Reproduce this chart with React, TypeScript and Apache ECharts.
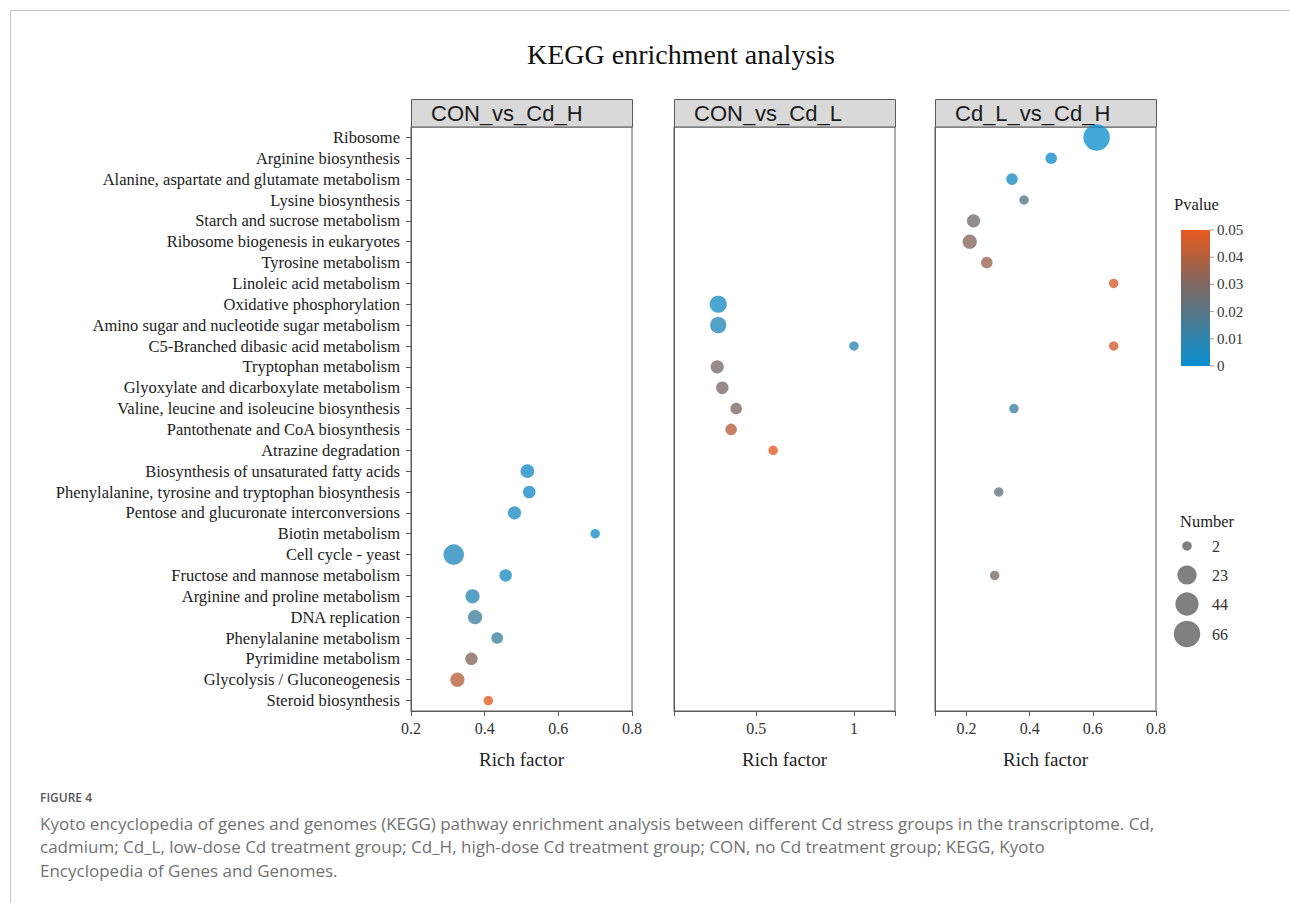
import React, { useEffect, useRef } from "react";
import * as echarts from "echarts";

const categories = [
  "Ribosome",
  "Arginine biosynthesis",
  "Alanine, aspartate and glutamate metabolism",
  "Lysine biosynthesis",
  "Starch and sucrose metabolism",
  "Ribosome biogenesis in eukaryotes",
  "Tyrosine metabolism",
  "Linoleic acid metabolism",
  "Oxidative phosphorylation",
  "Amino sugar and nucleotide sugar metabolism",
  "C5-Branched dibasic acid metabolism",
  "Tryptophan metabolism",
  "Glyoxylate and dicarboxylate metabolism",
  "Valine, leucine and isoleucine biosynthesis",
  "Pantothenate and CoA biosynthesis",
  "Atrazine degradation",
  "Biosynthesis of unsaturated fatty acids",
  "Phenylalanine, tyrosine and tryptophan biosynthesis",
  "Pentose and glucuronate interconversions",
  "Biotin metabolism",
  "Cell cycle - yeast",
  "Fructose and mannose metabolism",
  "Arginine and proline metabolism",
  "DNA replication",
  "Phenylalanine metabolism",
  "Pyrimidine metabolism",
  "Glycolysis / Gluconeogenesis",
  "Steroid biosynthesis",
];

const panelNames = ["CON_vs_Cd_H", "CON_vs_Cd_L", "Cd_L_vs_Cd_H"];

// Panel 1: CON_vs_Cd_H
const hPathways = [
  "Biosynthesis of unsaturated fatty acids",
  "Phenylalanine, tyrosine and tryptophan biosynthesis",
  "Pentose and glucuronate interconversions",
  "Biotin metabolism",
  "Cell cycle - yeast",
  "Fructose and mannose metabolism",
  "Arginine and proline metabolism",
  "DNA replication",
  "Phenylalanine metabolism",
  "Pyrimidine metabolism",
  "Glycolysis / Gluconeogenesis",
  "Steroid biosynthesis",
];
const hRich = [0.516, 0.521, 0.481, 0.7, 0.316, 0.457, 0.367, 0.374, 0.434, 0.364, 0.326, 0.41];
const hPvalue = [0.003, 0.003, 0.004, 0.003, 0.006, 0.005, 0.008, 0.014, 0.013, 0.031, 0.041, 0.049];
const hNumber = [6, 4, 5, 2, 29, 4, 7, 7, 3, 4, 7, 2];

// Panel 2: CON_vs_Cd_L
const lPathways = [
  "Oxidative phosphorylation",
  "Amino sugar and nucleotide sugar metabolism",
  "C5-Branched dibasic acid metabolism",
  "Tryptophan metabolism",
  "Glyoxylate and dicarboxylate metabolism",
  "Valine, leucine and isoleucine biosynthesis",
  "Pantothenate and CoA biosynthesis",
  "Atrazine degradation",
];
const lRich = [0.306, 0.306, 1.0, 0.301, 0.327, 0.398, 0.372, 0.587];
const lPvalue = [0.004, 0.007, 0.008, 0.029, 0.029, 0.030, 0.040, 0.049];
const lNumber = [15, 12, 2, 5, 4, 3, 3, 2];

// Panel 3: Cd_L_vs_Cd_H
const lhPathways = [
  "Ribosome",
  "Arginine biosynthesis",
  "Alanine, aspartate and glutamate metabolism",
  "Lysine biosynthesis",
  "Starch and sucrose metabolism",
  "Ribosome biogenesis in eukaryotes",
  "Tyrosine metabolism",
  "Linoleic acid metabolism",
  "C5-Branched dibasic acid metabolism",
  "Valine, leucine and isoleucine biosynthesis",
  "Phenylalanine, tyrosine and tryptophan biosynthesis",
  "Fructose and mannose metabolism",
];
const lhRich = [0.612, 0.468, 0.344, 0.382, 0.222, 0.21, 0.264, 0.666, 0.666, 0.35, 0.302, 0.289];
const lhPvalue = [0.001, 0.003, 0.004, 0.018, 0.027, 0.031, 0.035, 0.046, 0.046, 0.013, 0.022, 0.029];
const lhNumber = [66, 3, 3, 2, 5, 7, 3, 2, 2, 2, 2, 2];

// Axis ranges / ticks per panel
const xMin = [0.2, 0.08, 0.1];
const xMax = [0.8, 1.21, 0.8];
const xLabels = [
  [0.2, 0.4, 0.6, 0.8],
  [0.5, 1],
  [0.2, 0.4, 0.6, 0.8],
];

const pvalueTicks = [0, 0.01, 0.02, 0.03, 0.04, 0.05];
const pvalueMax = 0.05;
const numberLegend = [2, 23, 44, 66];

const colorStops = ["#0a8fd0", "#2f85af", "#587585", "#7f6863", "#b25f3d", "#e85a20"];

const SERIF = "'Liberation Serif', 'Times New Roman', serif";
const SANS = "'Liberation Sans', Arial, sans-serif";
const CAPTION = "'Open Sans', 'Noto Sans', sans-serif";

const numMin = 2;
const numMax = 66;
const sizeFor = (n: number) => 9.5 + 17 * Math.sqrt(Math.max(0, n - numMin) / (numMax - numMin));

const gridLeft = [411, 674, 935];
const gridTop = 127;
const gridW = 221;
const gridH = 584;

export default function App() {
  const ref = useRef<HTMLDivElement>(null);

  useEffect(() => {
    if (!ref.current) return;
    const chart = echarts.init(ref.current, undefined, { renderer: "svg" });

    const panels = [
      { p: hPathways, r: hRich, pv: hPvalue, n: hNumber },
      { p: lPathways, r: lRich, pv: lPvalue, n: lNumber },
      { p: lhPathways, r: lhRich, pv: lhPvalue, n: lhNumber },
    ];

    const grids = gridLeft.map((l) => ({
      left: l,
      top: gridTop,
      width: gridW,
      height: gridH,
      show: true,
      borderColor: "#5a5a5a",
      borderWidth: 1,
      backgroundColor: "transparent",
    }));

    const xAxes = panels.map((_, i) => ({
      gridIndex: i,
      type: "value",
      min: xMin[i],
      max: xMax[i],
      name: "Rich factor",
      nameLocation: "middle",
      nameGap: 39,
      nameTextStyle: { fontFamily: SERIF, fontSize: 19, color: "#222" },
      axisLine: { show: true, lineStyle: { color: "#5a5a5a", width: 1 } },
      axisTick: {
        show: true,
        length: 5,
        lineStyle: { color: "#5a5a5a" },
        customValues: [xMin[i], ...xLabels[i], xMax[i]],
      },
      axisLabel: {
        customValues: xLabels[i],
        fontFamily: SERIF,
        fontSize: 16,
        color: "#333",
        margin: 9,
        formatter: (v: number) => String(Math.round(v * 100) / 100),
      },
      splitLine: { show: false },
    }));

    const yAxes = panels.map((_, i) => ({
      gridIndex: i,
      type: "category",
      data: categories,
      inverse: true,
      axisLine: { show: true, lineStyle: { color: "#5a5a5a" } },
      axisTick: {
        show: i === 0,
        alignWithLabel: true,
        interval: 0,
        length: 5,
        lineStyle: { color: "#5a5a5a" },
      },
      axisLabel: {
        show: i === 0,
        interval: 0,
        hideOverlap: false,
        fontFamily: SERIF,
        fontSize: 16.5,
        color: "#222",
        margin: 11,
      },
      splitLine: { show: false },
    }));

    const series = panels.map((pan, i) => ({
      type: "scatter",
      xAxisIndex: i,
      yAxisIndex: i,
      symbol: "circle",
      symbolSize: (val: number[]) => sizeFor(val[3]),
      itemStyle: { opacity: 0.78 },
      data: pan.p.map((name, k) => [pan.r[k], categories.indexOf(name), pan.pv[k], pan.n[k]]),
    }));

    // Color bar geometry
    const cbX = 1181;
    const cbTop = 230;
    const cbH = 136;
    const cbW = 29;
    const pToY = (v: number) => cbTop + cbH - (v / pvalueMax) * cbH;

    const graphics: any[] = [];
    graphics.push({
      type: "line",
      shape: { x1: 10.5, y1: 10, x2: 10.5, y2: 903 },
      style: { stroke: "#c4c4c4", lineWidth: 1 },
    });
    graphics.push({
      type: "line",
      shape: { x1: 10, y1: 10.5, x2: 1290, y2: 10.5 },
      style: { stroke: "#c4c4c4", lineWidth: 1 },
    });
    graphics.push({
      type: "text",
      x: 681,
      y: 54,
      style: {
        text: "KEGG enrichment analysis",
        font: `28px ${SERIF}`,
        fill: "#111",
        textAlign: "center",
        textVerticalAlign: "middle",
      },
    });
    panelNames.forEach((nm, i) => {
      graphics.push({
        type: "rect",
        shape: { x: gridLeft[i] + 0.5, y: 99.5, width: gridW, height: 27.5 },
        style: { fill: "#d9d9d9", stroke: "#5a5a5a", lineWidth: 1 },
      });
      graphics.push({
        type: "text",
        x: gridLeft[i] + 20,
        y: 113,
        style: {
          text: nm,
          font: `22px ${SANS}`,
          fill: "#1a1a1a",
          textAlign: "left",
          textVerticalAlign: "middle",
        },
      });
    });
    graphics.push({
      type: "text",
      x: 1174,
      y: 204,
      style: { text: "Pvalue", font: `16.5px ${SERIF}`, fill: "#222", textAlign: "left", textVerticalAlign: "middle" },
    });
    graphics.push({
      type: "rect",
      shape: { x: cbX, y: cbTop, width: cbW, height: cbH },
      style: {
        fill: {
          type: "linear",
          x: 0,
          y: 1,
          x2: 0,
          y2: 0,
          colorStops: colorStops.map((c, k) => ({ offset: k / (colorStops.length - 1), color: c })),
        },
      },
    });
    pvalueTicks.forEach((t) => {
      const y = pToY(t);
      graphics.push({
        type: "line",
        shape: { x1: cbX + cbW, y1: y, x2: cbX + cbW + 4, y2: y },
        style: { stroke: "#999", lineWidth: 1 },
      });
      graphics.push({
        type: "text",
        x: cbX + cbW + 7,
        y,
        style: {
          text: String(t),
          font: `15px ${SERIF}`,
          fill: "#333",
          textAlign: "left",
          textVerticalAlign: "middle",
        },
      });
    });
    graphics.push({
      type: "text",
      x: 1180,
      y: 521,
      style: { text: "Number", font: `16.5px ${SERIF}`, fill: "#222", textAlign: "left", textVerticalAlign: "middle" },
    });
    const legendY = [546, 575, 604, 634];
    numberLegend.forEach((n, k) => {
      graphics.push({
        type: "circle",
        shape: { cx: 1187, cy: legendY[k], r: sizeFor(n) / 2 },
        style: { fill: "#808080" },
      });
      graphics.push({
        type: "text",
        x: 1212,
        y: legendY[k],
        style: {
          text: String(n),
          font: `16px ${SERIF}`,
          fill: "#333",
          textAlign: "left",
          textVerticalAlign: "middle",
        },
      });
    });
    graphics.push({
      type: "text",
      x: 40,
      y: 797,
      style: {
        text: "FIGURE 4",
        font: `600 12px ${CAPTION}`,
        fill: "#555",
        textAlign: "left",
        textVerticalAlign: "middle",
      },
    });
    const captionLines = [
      "Kyoto encyclopedia of genes and genomes (KEGG) pathway enrichment analysis between different Cd stress groups in the transcriptome. Cd,",
      "cadmium; Cd_L, low-dose Cd treatment group; Cd_H, high-dose Cd treatment group; CON, no Cd treatment group; KEGG, Kyoto",
      "Encyclopedia of Genes and Genomes.",
    ];
    captionLines.forEach((t, k) => {
      graphics.push({
        type: "text",
        x: 40,
        y: 823 + k * 23.5,
        style: {
          text: t,
          font: `17px ${CAPTION}`,
          fill: "#727272",
          textAlign: "left",
          textVerticalAlign: "middle",
        },
      });
    });

    chart.setOption({
      animation: false,
      backgroundColor: "#ffffff",
      grid: grids,
      xAxis: xAxes,
      yAxis: yAxes,
      visualMap: {
        show: false,
        type: "continuous",
        dimension: 2,
        min: 0,
        max: pvalueMax,
        seriesIndex: [0, 1, 2],
        inRange: { color: colorStops },
      },
      series,
      graphic: graphics,
    } as any);

    return () => chart.dispose();
  }, []);

  return (
    <div
      ref={ref}
      style={{ position: "absolute", left: 0, top: 0, width: 1290, height: 903, background: "#fff" }}
    />
  );
}
